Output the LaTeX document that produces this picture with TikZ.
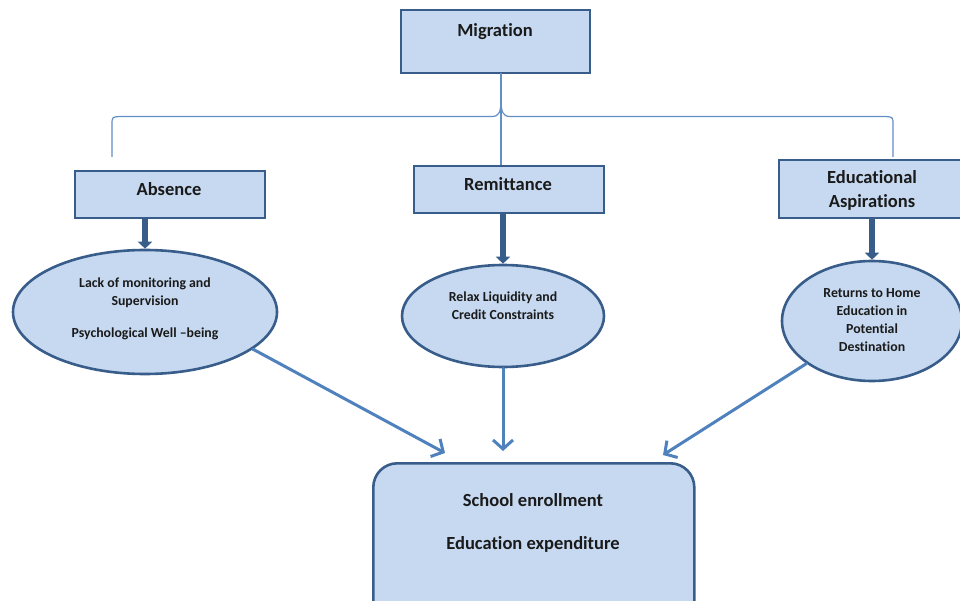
\documentclass[tikz,border=0pt]{standalone}
\usepackage{fontspec}
\setmainfont[Ligatures=NoCommon]{Carlito}
\usetikzlibrary{arrows.meta,shapes.geometric}
\definecolor{boxfill}{HTML}{C6D9F1}
\definecolor{boxline}{HTML}{385D8A}
\definecolor{linkblue}{HTML}{4F81BD}
\definecolor{inkdark}{HTML}{1A1A1A}
\tikzset{
  box/.style={draw=boxline, fill=boxfill, line width=2.6pt, inner sep=0pt},
  oval/.style={ellipse, draw=boxline, fill=boxfill, line width=2.6pt, inner sep=0pt},
  headtext/.style={font=\bfseries\fontsize{18.5}{24}\selectfont, text=inkdark, align=center},
  ovaltext/.style={font=\bfseries\fontsize{13.8}{18}\selectfont, text=inkdark, align=center},
  bigarrow/.style={draw=boxline, line width=6pt, -{Triangle[width=14pt,length=7pt]}},
  thinarrow/.style={draw=linkblue, line width=3pt, line cap=round, -{Straight Barb[length=9pt,width=20pt]}},
  brace/.style={draw=linkblue!90, line width=1.2pt}
}
\begin{document}
\begin{tikzpicture}[x=1pt,y=-1pt]
\useasboundingbox (0,0) rectangle (960,601);

% top cause
\node[box, minimum width=189pt, minimum height=63pt] (mig) at (495.5,41.5) {};
\node[headtext] (migt) at (495,32) {Migration};

% three channels
\node[box, minimum width=190pt, minimum height=47pt] (abs) at (170,194.5) {};
\node[headtext] (abst) at (169,189) {Absence};
\node[box, minimum width=190pt, minimum height=47pt] (rem) at (509,189.5) {};
\node[headtext] (remt) at (508,184) {Remittance};
\node[box, minimum width=188pt, minimum height=58pt] (asp) at (873,189) {};
\node[headtext] (aspt) at (872,190) {Educational\\Aspirations};

% mechanisms
\node[oval, minimum width=264pt, minimum height=124pt] (e1) at (145,312) {};
\node[ovaltext] (e1t) at (145,309) {Lack of monitoring and\\Supervision\\[14pt]Psychological Well \textendash being};
\node[oval, minimum width=202pt, minimum height=102pt] (e2) at (503,316) {};
\node[ovaltext] (e2t) at (503,306) {Relax Liquidity and\\Credit Constraints};
\node[oval, minimum width=180pt, minimum height=120pt] (e3) at (872,321) {};
\node[ovaltext] (e3t) at (872,320) {Returns to Home\\Education in\\Potential\\Destination};

% outcome
\node[box, rounded corners=24pt, minimum width=321pt, minimum height=170pt, anchor=north west] (out) at (372,462) {};
\node[headtext] (outt) at (533,523) {School enrollment\\[19pt]Education expenditure};

% brace from Migration to the three channels
\coordinate (bl) at (112,157);
\coordinate (br) at (893,157);
\coordinate (bm) at (501,73);
\draw[brace] (bl) -- (112,125) .. controls (112,117) .. (120,116.5) -- (492,116.5)
  .. controls (499,116.5) and (501,112) .. (501,100) -- (bm);
\draw[brace] (br) -- (893,125) .. controls (893,117) .. (885,116.5) -- (510,116.5)
  .. controls (503,116.5) and (501,112) .. (501,100);
\draw[brace] (bm) -- (rem.north -| bm);

% channel to mechanism
\draw[bigarrow] (abs.south -| e1.north) -- (e1.north);
\draw[bigarrow] (rem.south -| e2.north) -- (e2.north);
\draw[bigarrow] (asp.south -| e3.north) -- (e3.north);

% mechanisms to outcome
\coordinate (t1) at (445,453);
\coordinate (t2) at (503,451);
\coordinate (t3) at (663,455);
\draw[thinarrow] (e1.-19) -- (t1);
\draw[thinarrow] (e2.south) -- (t2);
\draw[thinarrow] (e3.213) -- (t3);
\end{tikzpicture}
\end{document}
